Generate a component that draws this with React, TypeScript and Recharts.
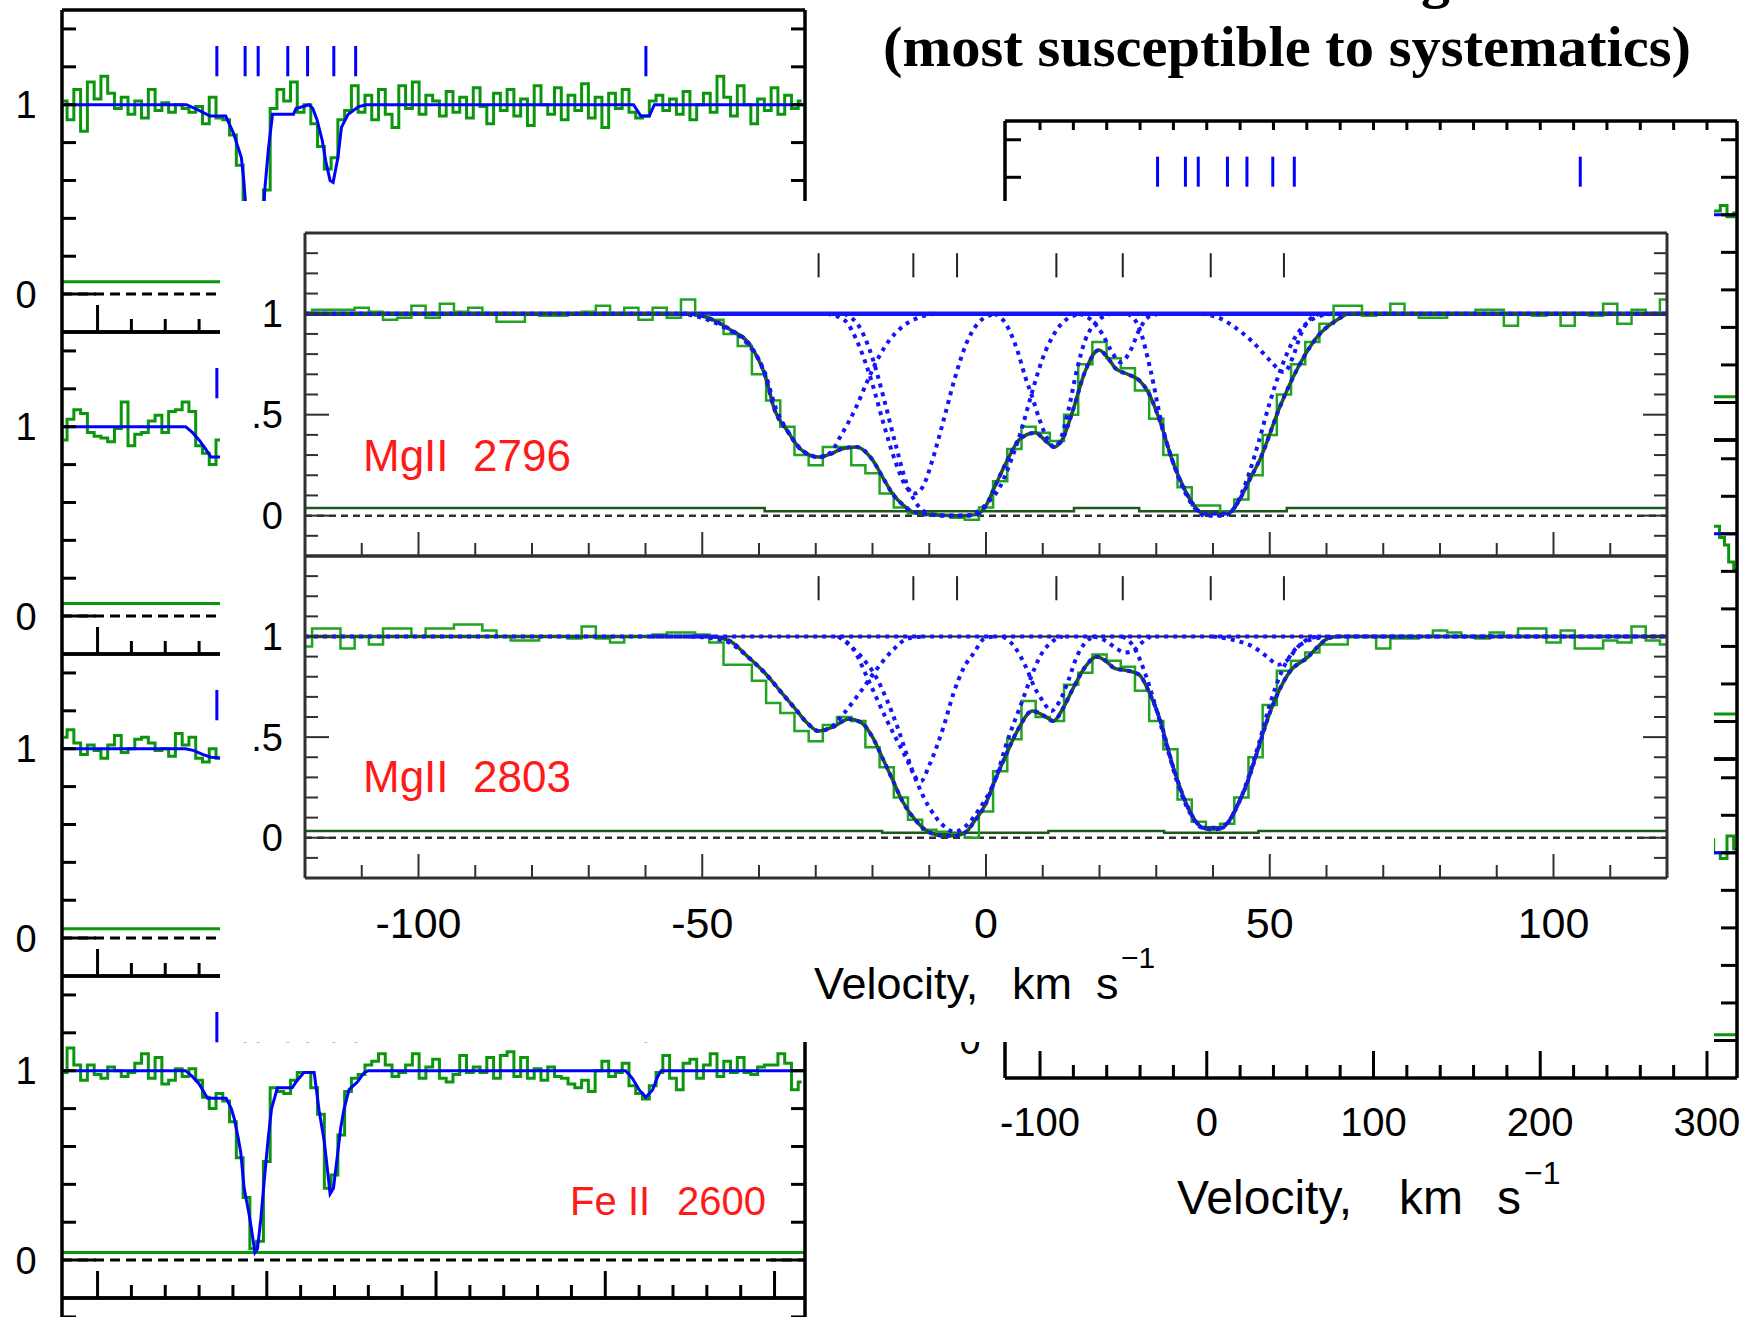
import React from "react";
import { LineChart, Line, XAxis, YAxis, ReferenceLine } from "recharts";

type Pt = { v: number; f: number };

const binCentres = (start: number, step: number, n: number): number[] =>
  Array.from({ length: n }, (_, i) => Math.round((start + i * step) * 100) / 100);
const toPts = (vs: number[], fs: number[]): Pt[] => vs.map((v, i) => ({ v, f: fs[i] }));
const fromPairs = (p: number[][]): Pt[] => p.map(([v, f]) => ({ v, f }));

// ---------- colours / fonts ----------
const AX = "#000";
const GREEN = "#0b960b";
const BLUE = "#0000ff";
const INSET_AX = "#303030";
const INSET_GREEN = "#22a322";
const FIT_GREEN = "#1c5a1c";
const DOT_BLUE = "#1515f5";
const RED = "#ff1a1a";
const SANS = "'Liberation Sans', Arial, Helvetica, sans-serif";
const SERIF = "'Liberation Serif', 'Times New Roman', serif";
const NO_MARGIN = { top: 0, right: 0, bottom: 0, left: 0 };
// axes need a non-zero size to be drawn; each takes 1px around the plot
const AXIS_PAD = 1;

// ---------- velocity components (km/s) ----------
const components = [-29.5, -12.8, -5.1, 12.4, 24.1, 39.6, 52.5];
const markerVel = [-29.5, -12.8, -5.1, 12.4, 24.1, 39.6, 52.5, 224];

// ---------- stacked column panels ----------
const COL_X: [number, number] = [-121, 318];
const COL_Y: [number, number] = [-0.2, 1.5];
const colTicks = [-100, -80, -60, -40, -20, 0, 20, 40, 60, 80, 100, 120, 140, 160, 180, 200, 220, 240, 260, 280, 300];
const colMajor = [-100, 0, 100, 200, 300];
const colYTicks = [0, 0.2, 0.4, 0.6, 0.8, 1, 1.2, 1.4];

const colGrid = binCentres(-120, 4, 110);
const shortGrid = binCentres(-120, 4, 25);

const stripAFlux = [
  1.02, 0.92, 1.08, 0.86, 1.12, 1.03, 1.15, 1.06, 0.98, 1.04, 0.95, 1.02, 0.93, 1.08, 0.97, 1.01,
  0.96, 1.0, 0.98, 0.96, 0.99, 0.9, 1.04, 0.93, 0.92, 0.84, 0.68, 0.35, 0.1, 0.08, 0.55, 0.98,
  1.08, 1.02, 1.12, 0.96, 1.0, 0.9, 0.78, 0.66, 0.72, 0.92, 0.97, 1.1, 0.96, 1.05, 0.92, 1.08,
  0.95, 0.88, 1.1, 0.98, 1.12, 0.95, 1.05, 1.02, 0.94, 1.07, 0.96, 1.04, 0.93, 1.09, 0.99, 0.9,
  1.06, 0.97, 1.08, 0.94, 1.03, 0.89, 1.1, 1.0, 0.95, 1.09, 0.92, 1.05, 0.97, 1.11, 0.93, 1.04,
  0.88, 1.06, 0.98, 1.08, 0.96, 0.93, 0.94, 1.02, 1.05, 0.97, 1.03, 0.95, 1.07, 0.92, 1.0, 1.06,
  0.96, 1.15, 1.04, 0.94, 1.1, 1.0, 0.9, 1.03, 0.97, 1.09, 0.95, 1.05, 0.98, 1.02,
];
const stripAFit = [
  [-121, 1], [-47.4, 1], [-40, 0.97], [-33.6, 0.94], [-24.3, 0.94], [-19.7, 0.85], [-15, 0.72],
  [-13.6, 0.6], [-11, 0.3], [-8, 0.1], [-5, 0.05], [-2.5, 0.3], [-1.2, 0.55], [1, 0.77], [3.4, 0.95],
  [15.8, 0.95], [17.3, 0.98], [25, 1], [27.2, 0.98], [29.7, 0.92], [32.8, 0.81], [34.9, 0.7],
  [37.4, 0.6], [39.2, 0.59], [42, 0.72], [44.1, 0.88], [48.1, 0.95], [54.3, 0.99], [58.9, 1],
  [216.7, 1], [221, 0.94], [226, 0.94], [229, 1], [318, 1],
];

const stripBFlux = [
  0.93, 1.04, 1.09, 1.07, 0.97, 0.95, 0.94, 0.92, 0.99, 1.13, 0.9, 0.96, 0.97, 1.03, 1.06, 0.97,
  1.08, 1.09, 1.13, 1.08, 0.9, 0.86, 0.8, 0.93, 0.67,
];
const stripBFit = [[-121, 1], [-48, 1], [-44, 0.97], [-40, 0.93], [-36, 0.88], [-33, 0.84], [-27, 0.84], [-24, 0.8]];

const stripCFlux = [
  1.06, 1.1, 1.03, 0.97, 1.02, 0.99, 0.95, 1.02, 1.07, 0.98, 1.0, 1.05, 1.06, 1.03, 0.99, 1.0,
  0.96, 1.08, 1.02, 1.06, 0.95, 0.93, 1.0, 0.95, 0.94,
];
const stripCFit = [[-121, 1], [-48, 1], [-43, 0.99], [-38, 0.97], [-33, 0.955], [-24, 0.95]];

const fe2600Flux = [
  0.99, 1.12, 1.03, 0.95, 1.03, 0.98, 0.96, 1.02, 1.0, 0.97, 0.99, 1.04, 1.09, 0.96, 1.07, 0.93,
  0.95, 1.01, 0.97, 1.01, 0.95, 0.86, 0.8, 0.88, 0.84, 0.73, 0.54, 0.33, 0.06, 0.1, 0.52, 0.91,
  0.89, 0.88, 0.95, 0.99, 0.99, 0.91, 0.77, 0.38, 0.45, 0.66, 0.89, 0.96, 0.98, 1.03, 1.05, 1.09,
  1.03, 0.97, 0.99, 1.03, 1.09, 0.96, 1.02, 1.06, 0.96, 0.94, 0.98, 1.08, 0.99, 1.02, 0.99, 1.07,
  0.96, 1.08, 1.1, 0.97, 1.07, 0.96, 1.01, 0.95, 1.02, 0.97, 0.96, 0.93, 0.91, 0.95, 0.89, 1.0,
  1.05, 0.97, 0.99, 1.04, 0.92, 0.88, 0.85, 0.92, 0.99, 1.08, 0.96, 0.9, 1.04, 1.06, 0.96, 1.03,
  1.09, 0.97, 1.05, 0.99, 1.07, 0.99, 0.98, 1.02, 1.03, 1.03, 1.09, 1.04, 0.9, 0.94,
];
const fe2600Fit = [
  [-121, 1], [-48, 1], [-44, 0.97], [-40, 0.93], [-35, 0.855], [-24, 0.855], [-21, 0.8], [-19.3, 0.75],
  [-17, 0.65], [-15.4, 0.57], [-13.4, 0.38], [-10.4, 0.24], [-8.5, 0.13], [-7, 0.04], [-5.5, 0.06],
  [-3.5, 0.22], [-1.2, 0.45], [0.8, 0.64], [2.8, 0.8], [6.3, 0.91], [15, 0.91], [18, 0.95], [22, 0.99],
  [28, 0.99], [30.9, 0.79], [33.9, 0.63], [35.8, 0.48], [37.4, 0.35], [39.4, 0.38], [41.3, 0.52],
  [43.7, 0.7], [45.7, 0.8], [48.6, 0.9], [53.5, 0.94], [57.5, 0.99], [60, 1], [212, 1], [216, 0.96],
  [220, 0.9], [224, 0.86], [228, 0.9], [231, 0.97], [233, 1], [318, 1],
];

// right-hand stack: only the last few bins show past the overlay
const rightAFlux = [[302, 1.02], [306, 1.02], [310, 1.05], [314, 0.99], [318, 1.01]];
const rightBFlux = [[302, 1.04], [306, 1.04], [309, 0.98], [312, 0.94], [314, 0.85], [318, 0.81]];
const rightCFlux = [[302, 1.07], [306, 1.0], [310, 0.97], [314, 1.09], [318, 1.02]];
const flatFit = [[-121, 1], [318, 1]];

// ---------- Mg II doublet overlay ----------
const INSET_X: [number, number] = [-120, 120];
const INSET_Y: [number, number] = [-0.2, 1.4];
const insetTicks = [-110, -100, -90, -80, -70, -60, -50, -40, -30, -20, -10, 0, 10, 20, 30, 40, 50, 60, 70, 80, 90, 100, 110];
const insetMajor = [-100, -50, 0, 50, 100];
const insetYTicks = [-0.1, 0, 0.1, 0.2, 0.3, 0.4, 0.5, 0.6, 0.7, 0.8, 0.9, 1, 1.1, 1.2, 1.3];
const insetYMajor = [0, 0.5, 1];
const insetGrid = binCentres(-120, 2.5, 97);

const mg2796Flux = [
  1.0, 1.02, 1.02, 1.02, 1.03, 1.01, 0.97, 0.98, 1.04,
  0.98, 1.05, 1.01, 1.03, 1.0, 0.96, 0.96, 1.0, 0.99,
  0.99, 1.0, 1.01, 1.04, 1.0, 1.03, 0.97, 1.03, 0.98,
  1.07, 0.99, 0.97, 0.9, 0.84, 0.7, 0.57, 0.44, 0.3,
  0.25, 0.34, 0.34, 0.25, 0.21, 0.11, 0.04, 0.01, 0.01,
  0.0, -0.01, -0.02, 0.04, 0.17, 0.33, 0.44, 0.41, 0.37,
  0.5, 0.75, 0.86, 0.78, 0.73, 0.62, 0.48, 0.3, 0.14,
  0.05, 0.05, 0.02, 0.08, 0.2, 0.4, 0.6, 0.75, 0.86,
  0.95, 1.04, 1.04, 0.99, 1.0, 1.05, 1.0, 0.98, 0.98,
  1.0, 1.0, 1.02, 1.02, 0.94, 1.0, 0.99, 1.0, 0.94,
  1.0, 0.99, 1.05, 0.95, 1.02, 1.0, 1.07,
];
const mg2803Flux = [
  0.95, 1.04, 1.04, 0.94, 1.0, 0.96, 1.04, 1.04, 1.0,
  1.04, 1.04, 1.06, 1.06, 1.03, 1.0, 0.98, 0.98, 1.0,
  1.0, 0.99, 1.05, 0.99, 0.97, 1.0, 1.0, 1.01, 1.02,
  1.02, 1.01, 0.97, 0.86, 0.86, 0.78, 0.67, 0.62, 0.53,
  0.48, 0.56, 0.6, 0.58, 0.45, 0.35, 0.2, 0.09, 0.04,
  0.03, 0.02, 0.0, 0.13, 0.33, 0.49, 0.68, 0.6, 0.58,
  0.76, 0.82, 0.91, 0.88, 0.85, 0.73, 0.58, 0.44, 0.19,
  0.08, 0.04, 0.07, 0.2, 0.4, 0.66, 0.83, 0.88, 0.92,
  0.96, 0.96, 1.0, 1.0, 0.94, 0.99, 0.99, 1.0, 1.03,
  1.02, 1.0, 0.99, 1.02, 1.0, 1.04, 1.04, 0.97, 1.03,
  0.94, 0.94, 0.98, 0.97, 1.05, 0.98, 0.96,
];

const mg2796Total = [
  [-120, 1], [-52, 1], [-49, 0.98], [-45, 0.92], [-41.7, 0.85], [-39, 0.7], [-37.2, 0.52], [-35, 0.42],
  [-32.7, 0.33], [-29.5, 0.29], [-27, 0.31], [-25.5, 0.33], [-22.8, 0.34], [-20.1, 0.28], [-18, 0.18],
  [-16.5, 0.11], [-14.5, 0.05], [-13, 0.02], [-10, 0.005], [-5, 0], [-1.7, 0.005], [0, 0.05], [1.5, 0.14],
  [3.5, 0.26], [6, 0.38], [8.7, 0.41], [10.5, 0.37], [12, 0.34], [13.5, 0.38], [15.3, 0.52], [17.4, 0.71],
  [19.9, 0.82], [21.5, 0.78], [22.8, 0.73], [25, 0.7], [27, 0.67], [28.8, 0.6], [30.5, 0.48], [33, 0.26],
  [35, 0.13], [36.4, 0.06], [38.3, 0.01], [42.5, 0.01], [44.9, 0.09], [46.5, 0.18], [48.3, 0.28],
  [51.8, 0.54], [55.1, 0.74], [58.5, 0.89], [61.9, 0.97], [64, 1], [120, 1],
];
const mg2803Total = [
  [-120, 1], [-49, 1], [-45.3, 0.98], [-42, 0.9], [-39, 0.82], [-36, 0.72], [-33.6, 0.64], [-31.5, 0.57],
  [-29.5, 0.53], [-27, 0.55], [-24.1, 0.59], [-21.9, 0.57], [-20, 0.5], [-18.3, 0.4], [-16.5, 0.29],
  [-14.7, 0.18], [-12.5, 0.09], [-10.2, 0.03], [-7.5, 0.01], [-5.7, 0.01], [-3.5, 0.03], [-2.1, 0.08],
  [-0.2, 0.16], [1.5, 0.28], [3.5, 0.41], [5.5, 0.53], [8.2, 0.63], [10, 0.61], [11.9, 0.58], [13.5, 0.64],
  [15.3, 0.74], [17.5, 0.85], [19.5, 0.9], [21, 0.88], [22.8, 0.84], [25, 0.83], [27, 0.81], [28.8, 0.72],
  [30.5, 0.6], [33, 0.35], [35.6, 0.15], [37, 0.08], [38.3, 0.05], [41.6, 0.05], [43, 0.09], [44.1, 0.15],
  [46, 0.27], [47.5, 0.4], [50, 0.62], [53.4, 0.82], [56.8, 0.9], [58.5, 0.95], [60.2, 0.99], [62, 1], [120, 1],
];

// individual cloud profiles
const mg2796Clouds = [
  [[-54, 1], [-50, 0.98], [-46, 0.93], [-42, 0.85], [-39, 0.71], [-37, 0.53], [-35, 0.42], [-33, 0.34], [-31, 0.3], [-29.5, 0.29], [-27.5, 0.31], [-25.5, 0.4], [-23, 0.53], [-21, 0.66], [-19, 0.78], [-17, 0.87], [-15, 0.93], [-12, 0.98], [-9, 1]],
  [[-28, 1], [-25, 0.97], [-22.5, 0.85], [-20, 0.65], [-18, 0.45], [-16, 0.27], [-14, 0.14], [-12.5, 0.11], [-11, 0.15], [-9.5, 0.27], [-7.5, 0.47], [-5.5, 0.68], [-3.5, 0.85], [-1.5, 0.95], [1.5, 1]],
  [[-25, 1], [-22, 0.92], [-20, 0.78], [-18, 0.58], [-16, 0.36], [-14, 0.16], [-12, 0.05], [-10, 0.01], [-8, 0], [-3, 0], [-1.5, 0.02], [0.5, 0.07], [2.6, 0.15], [4.5, 0.28], [6.5, 0.45], [8, 0.6], [10, 0.78], [12, 0.9], [14.6, 0.98], [17, 1]],
  [[1.5, 1], [3.5, 0.95], [5.5, 0.82], [7, 0.68], [8, 0.6], [9.5, 0.47], [11, 0.37], [12, 0.34], [13, 0.37], [14.5, 0.52], [16, 0.72], [17.5, 0.87], [19.5, 0.96], [22, 1]],
  [[16.5, 1], [18.5, 0.97], [20.5, 0.9], [22, 0.82], [23.7, 0.76], [25.5, 0.82], [27, 0.92], [29, 0.99], [31, 1]],
  [[25, 1], [27, 0.93], [29, 0.72], [31, 0.45], [33, 0.26], [35, 0.12], [37, 0.03], [38.5, 0], [42, 0], [44, 0.05], [46, 0.18], [48, 0.36], [50, 0.56], [52, 0.73], [54, 0.86], [56, 0.94], [58, 0.98], [61, 1]],
  [[38, 1], [41, 0.98], [44, 0.93], [47, 0.86], [50, 0.77], [52.5, 0.71], [54, 0.78], [55.5, 0.9], [57, 0.97], [59, 1]],
];
const mg2803Clouds = [
  [[-52, 1], [-48, 0.99], [-45.3, 0.97], [-42, 0.9], [-39, 0.82], [-36, 0.72], [-33.6, 0.64], [-31.5, 0.57], [-29.5, 0.53], [-27.3, 0.55], [-25, 0.62], [-22, 0.73], [-19.2, 0.84], [-16.5, 0.93], [-13.8, 0.99], [-11, 1]],
  [[-26, 1], [-24.6, 0.97], [-22, 0.9], [-19.2, 0.79], [-17.4, 0.68], [-15.6, 0.55], [-13.8, 0.4], [-12.4, 0.3], [-11.5, 0.28], [-10, 0.36], [-7.5, 0.55], [-5.7, 0.72], [-4, 0.84], [-2.1, 0.92], [-0.3, 0.99], [1.5, 1]],
  [[-26, 1], [-23, 0.92], [-21, 0.8], [-17.4, 0.58], [-13.8, 0.38], [-10.2, 0.16], [-7.5, 0.06], [-5.5, 0.03], [-3.5, 0.06], [-1, 0.15], [1.5, 0.28], [4, 0.5], [6, 0.65], [7.7, 0.78], [9.5, 0.9], [11.9, 0.98], [13.5, 1]],
  [[3, 1], [5, 0.95], [7, 0.85], [8.5, 0.75], [10, 0.68], [11.5, 0.63], [13, 0.68], [14.5, 0.78], [16, 0.9], [17.5, 0.97], [19, 1]],
  [[19, 1], [21, 0.98], [23, 0.94], [24.5, 0.92], [26, 0.93], [27.5, 0.97], [29, 1]],
  [[24, 1], [26, 0.95], [28, 0.82], [30, 0.64], [32, 0.44], [34, 0.25], [36, 0.12], [38, 0.05], [40, 0.04], [42, 0.06], [44, 0.14], [46, 0.28], [48, 0.46], [50, 0.66], [52, 0.82], [54, 0.92], [56, 0.97], [58, 0.99], [60, 1]],
  [[40, 1], [44, 0.98], [47, 0.95], [49.5, 0.9], [51.5, 0.86], [53, 0.88], [55, 0.95], [57, 0.99], [59, 1]],
];
const mg2796Err = [[-120, 0.038], [-39, 0.022], [15.5, 0.038], [27, 0.022], [53, 0.038], [120, 0.038]];
const mg2803Err = [[-120, 0.033], [-18.3, 0.025], [11, 0.033], [31.4, 0.025], [48, 0.033], [120, 0.033]];
const mg2803Cont = [[-59, 1], [120, 1]];

// ---------- tick renderers (inward-pointing ticks) ----------
type TickCfg = {
  major: number[];
  majorLen: number;
  minorLen: number;
  dir: 1 | -1;
  stroke: string;
  width: number;
  label?: (v: number) => string | null;
  offset?: number;
  fontSize?: number;
  anchor?: "middle" | "end";
};

const xTick = (c: TickCfg) => (props: any) => {
  const { x, y, payload } = props;
  const v = payload.value as number;
  const len = c.major.includes(v) ? c.majorLen : c.minorLen;
  const text = c.label ? c.label(v) : null;
  return (
    <g>
      <line x1={x} x2={x} y1={y} y2={y + c.dir * len} stroke={c.stroke} strokeWidth={c.width} />
      {text !== null && (
        <text x={x} y={y + (c.offset ?? 0)} textAnchor="middle" fontFamily={SANS} fontSize={c.fontSize} fill="#000">
          {text}
        </text>
      )}
    </g>
  );
};

const yTick = (c: TickCfg) => (props: any) => {
  const { x, y, payload } = props;
  const v = payload.value as number;
  const len = c.major.includes(v) ? c.majorLen : c.minorLen;
  const text = c.label ? c.label(v) : null;
  return (
    <g>
      <line x1={x} x2={x + c.dir * len} y1={y} y2={y} stroke={c.stroke} strokeWidth={c.width} />
      {text !== null && (
        <text x={x + (c.offset ?? 0)} y={y + (c.fontSize ?? 0) * 0.36} textAnchor={c.anchor ?? "middle"} fontFamily={SANS} fontSize={c.fontSize} fill="#000">
          {text}
        </text>
      )}
    </g>
  );
};

const oneZero = (v: number) => (v === 1 ? "1" : v === 0 ? "0" : null);

// ---------- one panel of the stacked columns ----------
type ColumnProps = {
  left: number;
  top: number;
  width: number;
  height: number;
  flux?: Pt[];
  fit?: Pt[];
  err?: number;
  markers?: boolean;
  topTicks?: boolean;
  bottomLabels?: boolean;
  sideLabels?: boolean;
  labelOffset: number;
  sideTick: number;
};

function ColumnPanel(p: ColumnProps) {
  const axisLine = { stroke: AX, strokeWidth: 3.5 };
  const bottom = xTick({
    major: colMajor, majorLen: 27, minorLen: 13, dir: -1, stroke: AX, width: 3,
    label: p.bottomLabels ? (v) => (colMajor.includes(v) ? String(v) : null) : undefined,
    offset: 58, fontSize: 40,
  });
  const topT = xTick({ major: [], majorLen: 9, minorLen: 9, dir: 1, stroke: AX, width: 3 });
  const leftT = yTick({
    major: [0], majorLen: 34, minorLen: p.sideTick, dir: 1, stroke: AX, width: 3,
    label: p.sideLabels === false ? undefined : oneZero, offset: p.labelOffset, fontSize: 38,
  });
  const rightT = yTick({ major: [0], majorLen: 34, minorLen: p.sideTick, dir: -1, stroke: AX, width: 3 });
  return (
    <div style={{ position: "absolute", left: p.left - AXIS_PAD, top: p.top - AXIS_PAD }}>
      <LineChart width={p.width + 2 * AXIS_PAD} height={p.height + 2 * AXIS_PAD} margin={NO_MARGIN}>
        <XAxis type="number" dataKey="v" domain={COL_X} allowDataOverflow ticks={colTicks} interval={0} height={AXIS_PAD} tickSize={0} tickMargin={0} axisLine={axisLine} tickLine={false} tick={bottom} />
        <XAxis xAxisId="top" orientation="top" type="number" dataKey="v" domain={COL_X} allowDataOverflow ticks={colTicks} interval={0} height={AXIS_PAD} tickSize={0} tickMargin={0} axisLine={axisLine} tickLine={false} tick={p.topTicks ? topT : false} />
        <YAxis type="number" domain={COL_Y} allowDataOverflow ticks={colYTicks} interval={0} width={AXIS_PAD} tickSize={0} tickMargin={0} axisLine={axisLine} tickLine={false} tick={leftT} />
        <YAxis yAxisId="right" orientation="right" type="number" domain={COL_Y} allowDataOverflow ticks={colYTicks} interval={0} width={AXIS_PAD} tickSize={0} tickMargin={0} axisLine={axisLine} tickLine={false} tick={rightT} />
        <ReferenceLine y={0} stroke={AX} strokeWidth={3} strokeDasharray="10 6" />
        {p.err !== undefined && (
          <Line data={fromPairs([[COL_X[0], p.err], [COL_X[1], p.err]])} dataKey="f" type="linear" stroke={GREEN} strokeWidth={3} dot={false} activeDot={false} isAnimationActive={false} />
        )}
        {p.flux && <Line data={p.flux} dataKey="f" type="step" stroke={GREEN} strokeWidth={3} dot={false} activeDot={false} isAnimationActive={false} />}
        {p.fit && <Line data={p.fit} dataKey="f" type="linear" stroke={BLUE} strokeWidth={3} dot={false} activeDot={false} isAnimationActive={false} />}
        {p.markers &&
          markerVel.map((m) => (
            <ReferenceLine key={m} segment={[{ x: m, y: 1.15 }, { x: m, y: 1.31 }]} stroke={BLUE} strokeWidth={3} />
          ))}
      </LineChart>
    </div>
  );
}

// ---------- one transition of the Mg II overlay ----------
type InsetProps = {
  top: number;
  height: number;
  flux: Pt[];
  total: Pt[];
  clouds: Pt[][];
  err: Pt[];
  solidContinuum: boolean;
  bottomLabels: boolean;
};

function InsetPanel(p: InsetProps) {
  const axisLine = { stroke: INSET_AX, strokeWidth: 3 };
  const bottom = xTick({
    major: insetMajor, majorLen: 24, minorLen: 13, dir: -1, stroke: INSET_AX, width: 2,
    label: p.bottomLabels ? (v) => (insetMajor.includes(v) ? String(v) : null) : undefined,
    offset: 60, fontSize: 43,
  });
  const leftT = yTick({
    major: insetYMajor, majorLen: 24, minorLen: 13, dir: 1, stroke: INSET_AX, width: 2,
    label: (v) => (v === 1 ? "1" : v === 0.5 ? ".5" : v === 0 ? "0" : null),
    offset: -22, fontSize: 38, anchor: "end",
  });
  const rightT = yTick({ major: insetYMajor, majorLen: 24, minorLen: 13, dir: -1, stroke: INSET_AX, width: 2 });
  const lineProps = { dataKey: "f", dot: false, activeDot: false, isAnimationActive: false } as const;
  return (
    <div style={{ position: "absolute", left: 305 - AXIS_PAD, top: p.top - AXIS_PAD }}>
      <LineChart width={1362 + 2 * AXIS_PAD} height={p.height + 2 * AXIS_PAD} margin={NO_MARGIN}>
        <XAxis type="number" dataKey="v" domain={INSET_X} allowDataOverflow ticks={insetTicks} interval={0} height={AXIS_PAD} tickSize={0} tickMargin={0} axisLine={axisLine} tickLine={false} tick={bottom} />
        <XAxis xAxisId="top" orientation="top" type="number" dataKey="v" domain={INSET_X} allowDataOverflow ticks={insetTicks} interval={0} height={AXIS_PAD} tickSize={0} tickMargin={0} axisLine={axisLine} tickLine={false} tick={false} />
        <YAxis type="number" domain={INSET_Y} allowDataOverflow ticks={insetYTicks} interval={0} width={AXIS_PAD} tickSize={0} tickMargin={0} axisLine={axisLine} tickLine={false} tick={leftT} />
        <YAxis yAxisId="right" orientation="right" type="number" domain={INSET_Y} allowDataOverflow ticks={insetYTicks} interval={0} width={AXIS_PAD} tickSize={0} tickMargin={0} axisLine={axisLine} tickLine={false} tick={rightT} />
        <ReferenceLine y={0} stroke={INSET_AX} strokeWidth={2.5} strokeDasharray="7 5" />
        {!p.solidContinuum && <ReferenceLine y={1} stroke="#222" strokeWidth={2} />}
        <Line {...lineProps} data={p.err} type="stepAfter" stroke={FIT_GREEN} strokeWidth={2.5} />
        {p.solidContinuum && <ReferenceLine y={1} stroke={DOT_BLUE} strokeWidth={4.5} />}
        <Line {...lineProps} data={p.flux} type="step" stroke={INSET_GREEN} strokeWidth={2.5} />
        <Line {...lineProps} data={p.total} type="monotone" stroke={FIT_GREEN} strokeWidth={3.5} />
        {!p.solidContinuum && (
          <Line {...lineProps} data={fromPairs(mg2803Cont)} type="linear" stroke={DOT_BLUE} strokeWidth={4} strokeDasharray="4 5" />
        )}
        {p.clouds.map((c, i) => (
          <Line key={i} {...lineProps} data={c} type="monotone" stroke={DOT_BLUE} strokeWidth={4} strokeDasharray="4 5" />
        ))}
        <Line {...lineProps} data={p.total} type="monotone" stroke={DOT_BLUE} strokeWidth={4} strokeDasharray="4 5" />
        {components.map((c) => (
          <ReferenceLine key={c} segment={[{ x: c, y: 1.18 }, { x: c, y: 1.3 }]} stroke="#222" strokeWidth={2} />
        ))}
      </LineChart>
    </div>
  );
}

export default function App() {
  return (
    <div style={{ position: "absolute", left: 0, top: 0, width: 1754, height: 1317, overflow: "hidden", background: "#fff" }}>
      <style>{".recharts-surface{overflow:visible}"}</style>

      {/* left stack */}
      <ColumnPanel left={62} top={10} width={743} height={322} flux={toPts(colGrid, stripAFlux)} fit={fromPairs(stripAFit)} err={0.065} markers labelOffset={-36} sideTick={14} />
      <ColumnPanel left={62} top={332} width={743} height={322} flux={toPts(shortGrid, stripBFlux)} fit={fromPairs(stripBFit)} err={0.067} markers labelOffset={-36} sideTick={14} />
      <ColumnPanel left={62} top={654} width={743} height={322} flux={toPts(shortGrid, stripCFlux)} fit={fromPairs(stripCFit)} err={0.05} markers labelOffset={-36} sideTick={14} />
      <ColumnPanel left={62} top={976} width={743} height={322} flux={toPts(colGrid, fe2600Flux)} fit={fromPairs(fe2600Fit)} err={0.04} markers labelOffset={-36} sideTick={14} />
      <ColumnPanel left={62} top={1298} width={743} height={322} sideLabels={false} labelOffset={-36} sideTick={14} />

      {/* right stack */}
      <ColumnPanel left={1005} top={121} width={732} height={319} flux={fromPairs(rightAFlux)} fit={fromPairs(flatFit)} err={0.03} markers topTicks labelOffset={-35} sideTick={16} />
      <ColumnPanel left={1005} top={440} width={732} height={319} flux={fromPairs(rightBFlux)} fit={fromPairs(flatFit)} err={0.04} labelOffset={-35} sideTick={16} />
      <ColumnPanel left={1005} top={759} width={732} height={319} flux={fromPairs(rightCFlux)} fit={fromPairs(flatFit)} err={0.03} bottomLabels labelOffset={-35} sideTick={16} />

      <svg width={1754} height={1317} style={{ position: "absolute", left: 0, top: 0 }}>
        <text x={1421} y={-3} fontFamily={SERIF} fontWeight="bold" fontSize={58} fill="#000">g</text>
        <text x={883} y={66} fontFamily={SERIF} fontWeight="bold" fontSize={58} fill="#000" textLength={808} lengthAdjust="spacingAndGlyphs">
          (most susceptible to systematics)
        </text>
        <text y={1215} fontFamily={SANS} fontSize={40} fill={RED}>
          <tspan x={570}>Fe</tspan>
          <tspan x={628}>II</tspan>
          <tspan x={677}>2600</tspan>
        </text>
        <text y={1214} fontFamily={SANS} fontSize={48} fill="#000">
          <tspan x={1177}>Velocity,</tspan>
          <tspan x={1399}>km</tspan>
          <tspan x={1497}>s</tspan>
        </text>
        <text x={1524} y={1184} fontFamily={SANS} fontSize={32} fill="#000">−1</text>
      </svg>

      {/* Mg II doublet overlay */}
      <div style={{ position: "absolute", left: 220, top: 201, width: 1494, height: 841, background: "#fff" }} />
      <InsetPanel top={233} height={323} flux={toPts(insetGrid, mg2796Flux)} total={fromPairs(mg2796Total)} clouds={mg2796Clouds.map(fromPairs)} err={fromPairs(mg2796Err)} solidContinuum bottomLabels={false} />
      <InsetPanel top={556} height={322} flux={toPts(insetGrid, mg2803Flux)} total={fromPairs(mg2803Total)} clouds={mg2803Clouds.map(fromPairs)} err={fromPairs(mg2803Err)} solidContinuum={false} bottomLabels />
      <svg width={1754} height={1317} style={{ position: "absolute", left: 0, top: 0, pointerEvents: "none" }}>
        <text x={363} y={471} fontFamily={SANS} fontSize={44} fill={RED} xmlSpace="preserve">MgII  2796</text>
        <text x={363} y={792} fontFamily={SANS} fontSize={44} fill={RED} xmlSpace="preserve">MgII  2803</text>
        <text y={999} fontFamily={SANS} fontSize={45} fill="#000">
          <tspan x={814}>Velocity,</tspan>
          <tspan x={1012}>km</tspan>
          <tspan x={1096}>s</tspan>
        </text>
        <text x={1121} y={968} fontFamily={SANS} fontSize={30} fill="#000">−1</text>
      </svg>
    </div>
  );
}
